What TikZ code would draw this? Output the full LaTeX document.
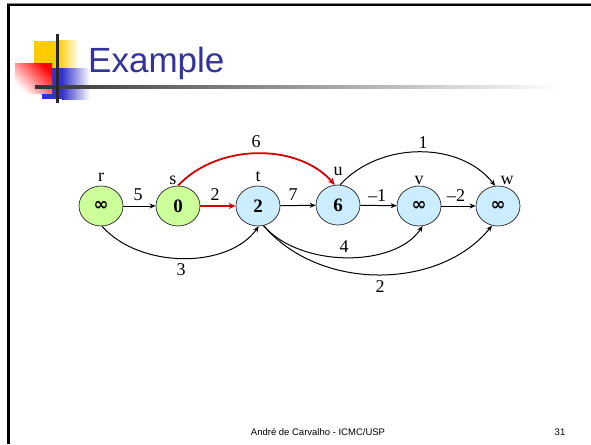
\documentclass[tikz,border=0pt]{standalone}
\usepackage{fontspec}
\setmainfont{Liberation Serif}
\newfontfamily\slidesans{Liberation Sans}
\newfontfamily\symfont{DejaVu Sans}
\usetikzlibrary{shapes.geometric,arrows.meta}
\definecolor{ngreen}{RGB}{204,255,153}
\definecolor{nblue}{RGB}{204,236,255}
\definecolor{titleblue}{RGB}{51,51,153}
\definecolor{logoyellow}{RGB}{255,204,0}
\definecolor{logoblue}{RGB}{51,51,204}
\definecolor{redge}{RGB}{210,0,0}
\newcommand{\binf}{{\symfont\bfseries\fontsize{18}{20}\selectfont ∞}}
\begin{document}
\begin{tikzpicture}[x=1pt,y=-1pt,
  vert/.style={ellipse,draw=black!85,line width=0.7pt,minimum width=44pt,minimum height=40pt,inner sep=0pt,font=\fontsize{19}{21}\selectfont\bfseries},
  gv/.style={vert,fill=ngreen},
  bv/.style={vert,fill=nblue},
  vlabel/.style={font=\fontsize{18}{20}\selectfont,inner sep=0pt},
  elabel/.style={font=\fontsize{18}{20}\selectfont,inner sep=0pt},
  conn/.style={draw=black,line width=1pt,-{Stealth[length=6pt,width=5pt]}},
  redconn/.style={draw=redge,line width=1.8pt,-{Stealth[length=7pt,width=6pt]}}]
\useasboundingbox (0,0) rectangle (591,444);
\fill[white] (0,0) rectangle (591,444);
% slide frame
\fill[black!45] (7,3.2) rectangle (591,4.2);
\fill[black] (7,4.2) rectangle (591,6.5);
\fill[black] (7,4) rectangle (9.6,444);
% logo
\fill[logoyellow] (34,41) rectangle (58,68);
\shade[left color=logoyellow,right color=white] (58,41) rectangle (79,68);
\fill[logoblue] (42,68) rectangle (62,99);
\shade[left color=logoblue,right color=white] (62,68) rectangle (90,99);
\shade[top color=red,bottom color=white,shading angle=-45] (15,63) rectangle (52,93);
\shade[left color=black!80,right color=white] (35,85) rectangle (560,88);
\fill[black!85] (56,34) rectangle (59,103);
% title
\node[font=\slidesans\fontsize{35}{40}\selectfont,text=titleblue,anchor=base west,inner sep=0pt] (title) at (88,73) {Example};
% vertices
\node[gv] (r) at (101,206) {\binf};
\node[gv] (s) at (178,206) {0};
\node[bv] (t) at (258,206) {2};
\node[bv] (u) at (338,205) {6};
\node[bv] (v) at (419,206) {\binf};
\node[bv] (w) at (498,206) {\binf};
% vertex names
\node[vlabel] (rl) at (101,177) {r};
\node[vlabel] (sl) at (173,180) {s};
\node[vlabel] (tl) at (258,177) {t};
\node[vlabel] (ul) at (338,171) {u};
\node[vlabel] (vl) at (419,180) {v};
\node[vlabel] (wl) at (507,180) {w};
% straight edges
\draw[conn] (r) -- (s);
\draw[redconn] (s) -- (t);
\draw[conn] (t) -- (u);
\draw[conn] (u) -- (v);
\draw[conn] (v) -- (w);
% curved edges
\draw[redconn] (s.90) .. controls (218,143) and (298,143) .. (u.99);
\draw[conn] (u.84) .. controls (380,141) and (460,141) .. (w.98);
\draw[conn] (r.-87) .. controls (140,269) and (228,269) .. (t.-88);
\draw[conn] (t.-74) .. controls (300,268) and (395,268) .. (v.-80);
\draw[conn] (t.-74) .. controls (320,292) and (440,290) .. (w.-107);
% edge weights
\node[elabel] (l5) at (138,195) {5};
\node[elabel] (l2a) at (215,195) {2};
\node[elabel] (l7) at (293,195) {7};
\node[elabel] (lm1) at (377,196) {–1};
\node[elabel] (lm2) at (456,196) {–2};
\node[elabel] (l6) at (256,142) {6};
\node[elabel] (l1) at (423,143) {1};
\node[elabel] (l3) at (181,270) {3};
\node[elabel] (l4) at (344,247) {4};
\node[elabel] (l2b) at (380,287) {2};
% footer
\node[font=\slidesans\fontsize{9.5}{11}\selectfont,anchor=base,inner sep=0pt] (foot) at (318,435) {André de Carvalho - ICMC/USP};
\node[font=\slidesans\fontsize{9.5}{11}\selectfont,anchor=base,inner sep=0pt] (page) at (560,435) {31};
\end{tikzpicture}
\end{document}
